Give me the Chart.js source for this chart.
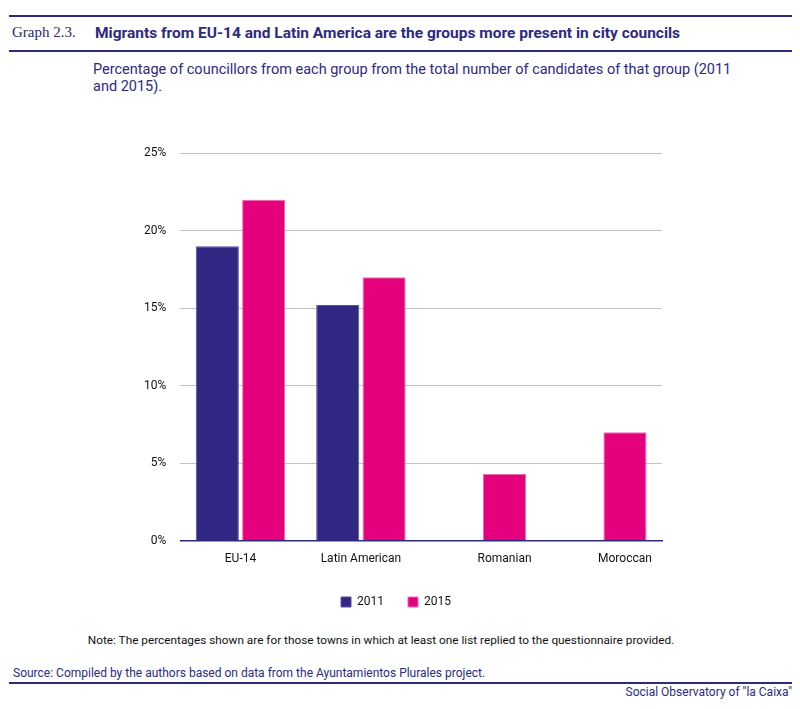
<!DOCTYPE html>
<html>
<head>
<meta charset="utf-8">
<script src="https://cdn.jsdelivr.net/npm/chart.js@4.4.0/dist/chart.umd.min.js"></script>
<style>
  html, body { margin: 0; padding: 0; background: #fff; }
  body { width: 800px; height: 709px; position: relative; overflow: hidden; font-family: Roboto, "Liberation Sans", sans-serif; }
  .rule { position: absolute; left: 9px; width: 783px; height: 2px; background: #2d2a7f; z-index: 5; }
  .t { position: absolute; white-space: nowrap; }
  #graphno { left: 12px; top: 24px; font-family: "Liberation Serif", "DejaVu Serif", serif; font-size: 15px; color: #2d2a6a; }
  #title { left: 95px; top: 24px; font-size: 15.5px; font-weight: bold; color: #2d2a7f; }
  #subtitle { left: 93px; top: 61px; font-size: 14.5px; color: #2d2a7f; line-height: 17px; white-space: normal; width: 650px; }
  #note { left: 0; width: 762px; text-align: center; top: 633px; font-size: 11.8px; color: #111; }
  #source { left: 13px; top: 666px; font-size: 12px; color: #2d2a7f; }
  #org { right: 8px; top: 685px; font-size: 12px; color: #2d2a7f; }
  #wrap { position: absolute; left: 0; top: 132px; width: 800px; height: 490px; }
</style>
</head>
<body>
<div class="rule" style="top:15px"></div>
<div class="t" id="graphno">Graph 2.3.</div>
<div class="t" id="title">Migrants from EU-14 and Latin America are the groups more present in city councils</div>
<div class="rule" style="top:50px"></div>
<div class="t" id="subtitle">Percentage of councillors from each group from the total number of candidates of that group (2011 and 2015).</div>
<div id="wrap"><canvas id="c"></canvas></div>
<div class="t" id="note">Note: The percentages shown are for those towns in which at least one list replied to the questionnaire provided.</div>
<div class="t" id="source">Source: Compiled by the authors based on data from the Ayuntamientos Plurales project.</div>
<div class="rule" style="top:682px"></div>
<div class="t" id="org">Social Observatory of "la Caixa"</div>
<script>
const categories = ["EU-14", "Latin American", "Romanian", "Moroccan"];
const seriesNames = ["2011", "2015"];
const values2011 = [19.0, 15.2, null, null];
const values2015 = [22.0, 17.0, 4.3, 7.0];
const yTicks = [0, 5, 10, 15, 20, 25];

const labelFont = '12px Roboto, "Liberation Sans", sans-serif';

const xLabelPlugin = {
  id: 'xLabels',
  afterDatasetsDraw(chart) {
    const ctx = chart.ctx;
    const area = chart.chartArea;
    ctx.save();
    ctx.font = labelFont;
    ctx.fillStyle = '#111';
    ctx.textAlign = 'center';
    ctx.textBaseline = 'middle';
    categories.forEach((cat, i) => {
      let sum = 0, n = 0;
      chart.data.datasets.forEach((ds, d) => {
        if (ds.data[i] !== null && ds.data[i] !== undefined) {
          sum += chart.getDatasetMeta(d).data[i].x; n++;
        }
      });
      const x = n ? sum / n : chart.scales.x.getPixelForValue(i);
      ctx.fillText(cat, x, area.bottom + 18);
    });
    ctx.restore();
  }
};

new Chart(document.getElementById('c'), {
  type: 'bar',
  data: {
    labels: categories,
    datasets: [
      { label: seriesNames[0], data: values2011, backgroundColor: '#312783', borderColor: '#5a4fa0', borderWidth: 1, categoryPercentage: 0.77, barPercentage: 0.93 },
      { label: seriesNames[1], data: values2015, backgroundColor: '#e5007d', borderColor: '#f26aae', borderWidth: 1, categoryPercentage: 0.77, barPercentage: 0.93 }
    ]
  },
  plugins: [xLabelPlugin],
  options: {
    responsive: true,
    maintainAspectRatio: false,
    animation: false,
    layout: { padding: { left: 130, right: 138, top: 3, bottom: 4 } },
    plugins: {
      legend: {
        position: 'bottom',
        labels: {
          boxWidth: 10, boxHeight: 10, padding: 24,
          color: '#111',
          font: { family: 'Roboto, "Liberation Sans", sans-serif', size: 12 }
        }
      },
      tooltip: { enabled: false }
    },
    scales: {
      x: {
        grid: { display: false, drawTicks: false },
        border: { display: true, color: '#2d2a7f', width: 1.5 },
        ticks: { color: 'rgba(0,0,0,0)', padding: 8.5, font: { size: 12 } }
      },
      y: {
        min: 0, max: 25,
        afterBuildTicks(scale) { scale.ticks = yTicks.map(v => ({ value: v })); },
        grid: { color: '#c4c4c4', lineWidth: 1, drawTicks: false },
        border: { display: false },
        ticks: {
          padding: 14, color: '#111',
          font: { family: 'Roboto, "Liberation Sans", sans-serif', size: 12 },
          callback: v => v + '%'
        }
      }
    }
  }
});
</script>
</body>
</html>
